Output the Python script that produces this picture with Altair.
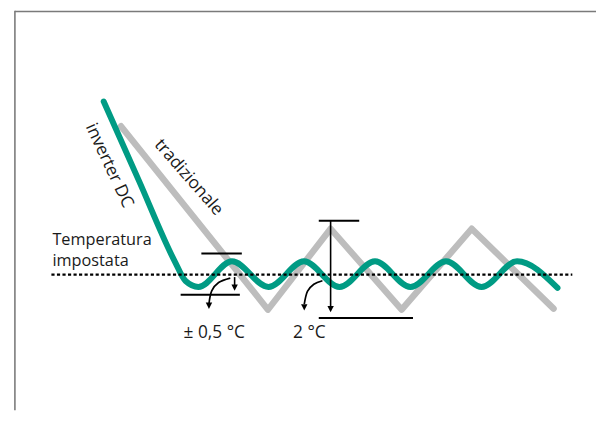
import altair as alt
import pandas as pd

# ---- data (time units, temperature units: screen scaled) ----
# inverter DC curve: key points (start, straight descent, then oscillation peaks/troughs)
inv_t = [105, 141, 177, 188, 201, 235, 272, 308, 344, 380, 416, 452, 488, 524, 565]
inv_v = [100, 181, 262, 282, 288, 262, 288, 262, 288, 262, 288, 262, 288, 262, 289]

# traditional on/off curve: start, troughs and peaks
trad_t = [122.5, 271.5, 335, 407, 478, 561]
trad_v = [125, 311, 229, 311, 229, 310]

# set point (dotted line)
set_t = [52, 580]
set_v = 275.5

# band markers: (t_start, t_end, level)
bar_t1 = [204, 183, 323, 323]
bar_t2 = [245, 243, 364, 418.5]
bar_v = [254, 296, 221, 319.5]

# vertical arrows: (t, v_start, v_end), arrow tips
varr_t = [237.7, 335]
varr_v1 = [278, 221]
varr_v2 = [288, 310]
tip_t = [237.7, 335, 211.7, 308.3]
tip_v = [288.7, 310.5, 307, 308.7]

# curved arrows
arc_id = ["a", "a", "a", "a", "b", "b", "b", "b"]
arc_t = [233.3, 221.5, 214.5, 211.7, 326.7, 318.0, 311.5, 308.3]
arc_v = [279, 283.5, 292, 305, 281.7, 285.2, 292.5, 305.5]
arc_o = [0, 1, 2, 3, 0, 1, 2, 3]

# labels
setpoint_label = ["Temperatura\nimpostata"]
setpoint_label_t = [53]
setpoint_label_v = [245.5]

hlab = ["± 0,5 °C", "2 °C"]
hlab_t = [186, 297]
hlab_v = [339.5, 339.5]

rlab = ["inverter DC", "tradizionale"]
rlab_t = [110.5, 191]
rlab_v = [165, 177]
rlab_a = [65, 49]

GREEN = "#009B84"
GRAY = "#BDBDBD"
INK = "#1a1a1a"
FONT = "Open Sans"

xs = alt.Scale(domain=[8, 604], nice=False, zero=False)
ys = alt.Scale(domain=[8, 413], nice=False, zero=False, reverse=True)


def X(f="t"):
    return alt.X(f + ":Q", scale=xs, axis=None)


def Y(f="v"):
    return alt.Y(f + ":Q", scale=ys, axis=None)


inv_df = pd.DataFrame({"t": inv_t, "v": inv_v})
trad_df = pd.DataFrame({"t": trad_t, "v": trad_v})
set_df = pd.DataFrame({"t": [set_t[0]], "t2": [set_t[1]], "v": [set_v]})
bar_df = pd.DataFrame({"t": bar_t1, "t2": bar_t2, "v": bar_v})
varr_df = pd.DataFrame({"t": varr_t, "v": varr_v1, "v2": varr_v2})
tip_df = pd.DataFrame({"t": tip_t, "v": tip_v})
arc_df = pd.DataFrame({"id": arc_id, "t": arc_t, "v": arc_v, "o": arc_o})
sp_df = pd.DataFrame({"label": setpoint_label, "t": setpoint_label_t, "v": setpoint_label_v})
hlab_df = pd.DataFrame({"label": hlab, "t": hlab_t, "v": hlab_v})
rlab_df = pd.DataFrame({"label": rlab, "t": rlab_t, "v": rlab_v, "a": rlab_a})
one = pd.DataFrame({"k": [0]})

frame_top = alt.Chart(one).mark_rule(color="#7a7a7a", strokeWidth=1.6).encode(
    x=alt.value(7), x2=alt.value(596), y=alt.value(0.8)
)
frame_left = alt.Chart(one).mark_rule(color="#7a7a7a", strokeWidth=1.6).encode(
    x=alt.value(7), y=alt.value(0), y2=alt.value(405)
)

setline = alt.Chart(set_df).mark_rule(
    color="#000000", strokeWidth=2.5, strokeDash=[3.2, 2.4]
).encode(x=X(), x2="t2:Q", y=Y())

trad = alt.Chart(trad_df).mark_line(
    color=GRAY, strokeWidth=6.5, strokeCap="round", strokeJoin="round"
).encode(x=X(), y=Y())

inv = alt.Chart(inv_df).mark_line(
    color=GREEN, strokeWidth=6, strokeCap="round", strokeJoin="round",
    interpolate="monotone"
).encode(x=X(), y=Y())

bars = alt.Chart(bar_df).mark_rule(color="#000000", strokeWidth=2).encode(
    x=X(), x2="t2:Q", y=Y()
)

varr = alt.Chart(varr_df).mark_rule(color="#000000", strokeWidth=1.6).encode(
    x=X(), y=Y(), y2="v2:Q"
)

arcs = alt.Chart(arc_df).mark_line(
    color="#000000", strokeWidth=1.7, interpolate="cardinal"
).encode(x=X(), y=Y(), detail="id:N", order="o:Q")

tips = alt.Chart(tip_df).mark_point(
    shape="M-1,-1L1,-1L0,1Z", filled=True, size=42, color="#000000",
    opacity=1, strokeWidth=0
).encode(x=X(), y=Y())

sptext = alt.Chart(sp_df).mark_text(
    align="left", baseline="alphabetic", font=FONT, fontSize=16.5, color=INK,
    lineBreak="\n", lineHeight=21.5
).encode(x=X(), y=Y(), text="label:N")

htext = alt.Chart(hlab_df).mark_text(
    align="left", baseline="alphabetic", font=FONT, fontSize=17.5, color=INK
).encode(x=X(), y=Y(), text="label:N")

rtext = alt.Chart(rlab_df).mark_text(
    align="center", baseline="middle", font=FONT, fontSize=17.5, color=INK
).encode(x=X(), y=Y(), text="label:N", angle=alt.Angle("a:Q", scale=None))

chart = alt.layer(
    frame_top, frame_left, trad, inv, setline, bars, varr, arcs, tips,
    sptext, htext, rtext
).properties(
    width=596, height=405, padding=0,
    autosize=alt.AutoSizeParams(type="none"),
).configure_view(stroke=None)

chart.save("out.html", embed_options={"renderer": "svg", "actions": False})
